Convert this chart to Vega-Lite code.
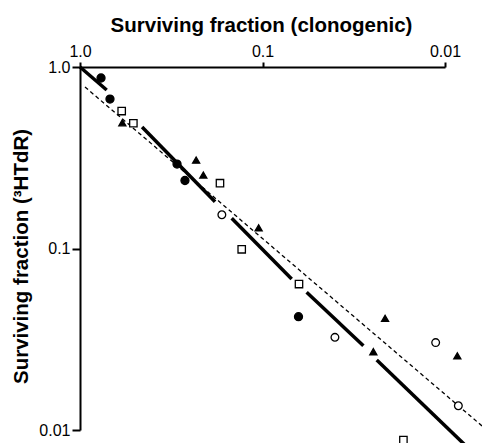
{
  "$schema": "https://vega.github.io/schema/vega-lite/v6.json",
  "autosize": {"type": "none"},
  "padding": {"left": 80, "top": 67, "right": 37, "bottom": 13},
  "width": 365,
  "height": 363,
  "background": "white",
  "config": {"view": {"stroke": null}},
  "datasets": {
    "pts": [
      {"x": 0.767, "y": 0.870, "g": "fc"},
      {"x": 0.685, "y": 0.666, "g": "fc"},
      {"x": 0.294, "y": 0.292, "g": "fc"},
      {"x": 0.266, "y": 0.237, "g": "fc"},
      {"x": 0.0635, "y": 0.0421, "g": "fc"},
      {"x": 0.591, "y": 0.572, "g": "os"},
      {"x": 0.510, "y": 0.490, "g": "os"},
      {"x": 0.171, "y": 0.229, "g": "os"},
      {"x": 0.130, "y": 0.0990, "g": "os"},
      {"x": 0.0631, "y": 0.0637, "g": "os"},
      {"x": 0.0169, "y": 0.00881, "g": "os"},
      {"x": 0.586, "y": 0.493, "g": "ft"},
      {"x": 0.231, "y": 0.307, "g": "ft"},
      {"x": 0.211, "y": 0.254, "g": "ft"},
      {"x": 0.105, "y": 0.130, "g": "ft"},
      {"x": 0.0213, "y": 0.0412, "g": "ft"},
      {"x": 0.0247, "y": 0.0270, "g": "ft"},
      {"x": 0.00856, "y": 0.0256, "g": "ft"},
      {"x": 0.167, "y": 0.1535, "g": "oc"},
      {"x": 0.0401, "y": 0.0324, "g": "oc"},
      {"x": 0.01125, "y": 0.0303, "g": "oc"},
      {"x": 0.00845, "y": 0.0136, "g": "oc"}
    ],
    "solid": [
      {"x": 1.0, "y": 1.0, "seg": 1},
      {"x": 0.714, "y": 0.747, "seg": 1},
      {"x": 0.457, "y": 0.467, "seg": 2},
      {"x": 0.182, "y": 0.181, "seg": 2},
      {"x": 0.1475, "y": 0.1467, "seg": 3},
      {"x": 0.0692, "y": 0.0679, "seg": 3},
      {"x": 0.0573, "y": 0.0574, "seg": 4},
      {"x": 0.0280, "y": 0.0291, "seg": 4},
      {"x": 0.02366, "y": 0.0243, "seg": 5},
      {"x": 0.00777, "y": 0.00827, "seg": 5}
    ],
    "dashed": [
      {"x": 0.939, "y": 0.776},
      {"x": 0.006, "y": 0.01014}
    ]
  },
  "layer": [
    {
      "data": {"name": "dashed"},
      "mark": {"type": "line", "color": "black", "strokeWidth": 1.3, "strokeDash": [4, 3], "clip": false},
      "encoding": {
        "x": {"field": "x", "type": "quantitative", "scale": {"type": "log", "domain": [0.01, 1], "reverse": true, "nice": false},
          "axis": {
            "orient": "top",
            "values": [1, 0.1, 0.01],
            "labelExpr": "datum.value >= 0.5 ? '1.0' : (datum.value >= 0.05 ? '0.1' : '0.01')",
            "grid": false,
            "domainColor": "black", "domainWidth": 2,
            "tickColor": "black", "tickWidth": 2, "tickSize": 5,
            "labelFont": "Liberation Sans", "labelFontSize": 16, "labelColor": "black",
            "labelPadding": 6, "labelBaseline": "alphabetic", "labelFlush": false, "labelOverlap": false,
            "title": "Surviving fraction (clonogenic)",
            "titleFont": "Liberation Sans", "titleFontSize": 20.5, "titleFontWeight": "bold", "titleColor": "black",
            "titleX": 181, "titleY": -35.3, "titleBaseline": "alphabetic", "titleAlign": "center"
          }},
        "y": {"field": "y", "type": "quantitative", "scale": {"type": "log", "domain": [0.01, 1], "nice": false},
          "axis": {
            "values": [1, 0.1, 0.01],
            "labelExpr": "datum.value >= 0.5 ? '1.0' : (datum.value >= 0.05 ? '0.1' : '0.01')",
            "grid": false,
            "domainColor": "black", "domainWidth": 2,
            "tickColor": "black", "tickWidth": 2, "tickSize": 8,
            "labelFont": "Liberation Sans", "labelFontSize": 16, "labelColor": "black",
            "labelPadding": 2, "labelBaseline": "middle", "labelFlush": false, "labelOverlap": false,
            "title": "Surviving fraction (³HTdR)",
            "titleFont": "Liberation Sans", "titleFontSize": 20.5, "titleFontWeight": "bold", "titleColor": "black",
            "titleX": -52.7, "titleY": 189, "titleAngle": -90, "titleBaseline": "alphabetic", "titleAlign": "center"
          }}
      }
    },
    {
      "data": {"name": "solid"},
      "mark": {"type": "line", "color": "black", "strokeWidth": 3.5, "clip": false},
      "encoding": {
        "x": {"field": "x", "type": "quantitative"},
        "y": {"field": "y", "type": "quantitative"},
        "detail": {"field": "seg", "type": "nominal"}
      }
    },
    {
      "data": {"name": "pts"},
      "mark": {"type": "point", "filled": true, "stroke": "black", "strokeWidth": 1.3, "opacity": 1, "clip": false},
      "encoding": {
        "x": {"field": "x", "type": "quantitative"},
        "y": {"field": "y", "type": "quantitative"},
        "shape": {"field": "g", "type": "nominal", "scale": {"domain": ["fc", "oc", "os", "ft"], "range": ["circle", "circle", "square", "triangle-up"]}, "legend": null},
        "fill": {"field": "g", "type": "nominal", "scale": {"domain": ["fc", "oc", "os", "ft"], "range": ["black", "white", "white", "black"]}, "legend": null},
        "size": {"field": "g", "type": "nominal", "scale": {"domain": ["fc", "oc", "os", "ft"], "range": [64, 50, 40, 75]}, "legend": null}
      }
    }
  ]
}
